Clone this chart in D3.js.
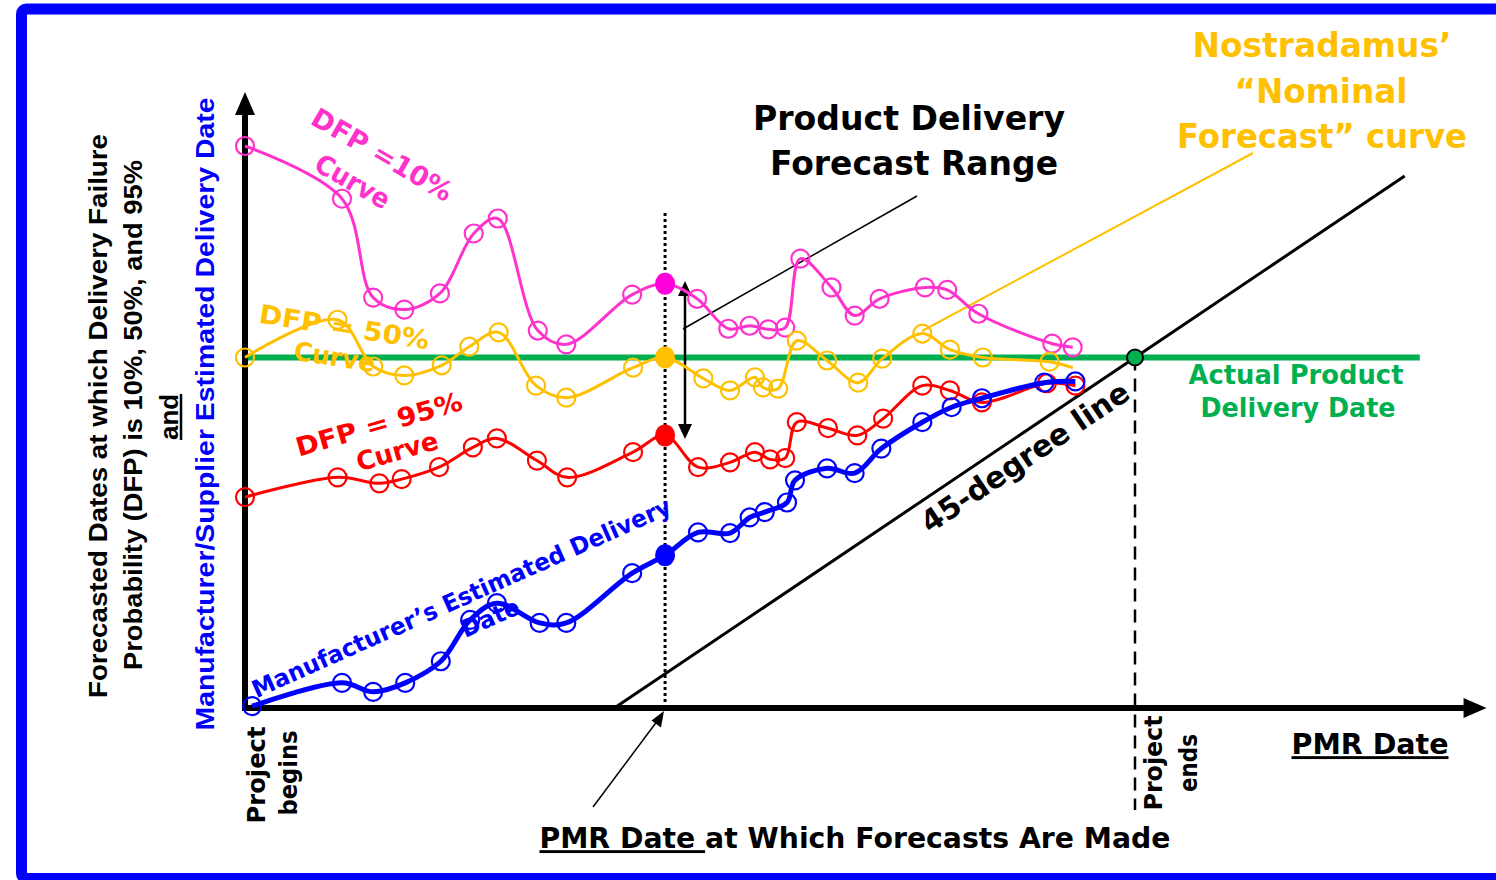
<!DOCTYPE html>
<html>
<head>
<meta charset="utf-8">
<script src="https://cdn.jsdelivr.net/npm/d3@7"></script>
<style>
  body { margin: 0; background: #fff; }
  svg { display: block; }
</style>
</head>
<body>
<svg width="1496" height="880"></svg>
<script>
// PMR date (0 = project begins, 100 = project ends) vs forecasted delivery date, same units
const pinkX = [0, 10.9, 14.4, 17.9, 21.9, 25.7, 28.4, 32.9, 36.1, 43.5, 47.2, 50.8, 54.3, 56.7, 58.8, 60.7, 62.4, 65.9, 68.5, 71.3, 76.4, 78.9, 82.4, 90.7, 93.0];
const pinkY = [135.3, 126.5, 110.0, 108.0, 110.7, 120.7, 123.2, 104.5, 102.2, 110.5, 112.3, 109.8, 104.8, 105.3, 104.7, 105.0, 116.5, 111.7, 107.0, 109.8, 111.7, 111.3, 107.3, 102.3, 101.7];

const yellowX = [0, 10.4, 14.4, 17.9, 22.1, 25.2, 28.5, 32.7, 36.1, 43.6, 47.2, 51.5, 54.5, 57.3, 58.2, 59.9, 62.0, 65.4, 68.9, 71.6, 76.1, 79.2, 82.9, 90.4, 93.0];
const yellowY = [100, 106.3, 98.5, 97.0, 98.7, 101.8, 104.2, 95.3, 93.3, 98.3, 100, 96.5, 94.5, 96.7, 95.0, 94.8, 102.8, 99.5, 95.8, 99.8, 104.0, 101.3, 100.0, 99.3, 98.3];

const redX = [0, 10.4, 15.1, 17.6, 21.8, 25.6, 28.3, 32.8, 36.2, 43.6, 47.2, 50.9, 54.5, 57.3, 59.0, 60.7, 62.0, 65.5, 68.8, 71.7, 76.1, 79.2, 82.8, 90.1, 93.3];
const redY = [76.7, 80.0, 79.0, 79.7, 81.7, 85.0, 86.5, 82.8, 80.0, 84.2, 87.0, 81.7, 82.5, 84.2, 83.0, 83.2, 89.2, 88.2, 87.0, 89.8, 95.3, 94.5, 92.5, 95.7, 95.3];

const blueX = [0.8, 10.9, 14.4, 18.0, 22.0, 25.3, 28.3, 33.1, 36.1, 43.5, 47.2, 50.9, 54.5, 56.7, 58.4, 60.9, 61.8, 65.4, 68.5, 71.5, 76.1, 79.4, 82.8, 89.8, 93.3];
const blueY = [41.8, 45.7, 44.2, 45.7, 49.3, 56.2, 59.0, 55.7, 55.7, 64.0, 67.0, 70.8, 70.7, 73.3, 74.2, 75.8, 79.5, 81.5, 80.7, 84.8, 89.2, 91.7, 93.2, 95.8, 96.0];

const forecastDate = 47.2;   // PMR date at which forecasts are made
const projectEnd = 100;
const actualDelivery = 100;

const svg = d3.select("svg");

const x = d3.scaleLinear().domain([0, 100]).range([245, 1135]);
const y = d3.scaleLinear().domain([41.5, 100]).range([708, 357.5]);

const yMin = 41.5, yTop = 144, xTip = 139.5;

// blue frame
svg.append('rect')
    .attr('x', 21.5).attr('y', 9)
    .attr('width', 1520).attr('height', 869.5)
    .attr('rx', 5)
    .attr('fill', 'none')
    .attr('stroke', '#0000ff')
    .attr('stroke-width', 11);

// ---------- text helper ----------
const label = (lines, o) => {
    const g = svg.append('g')
        .attr('transform', `translate(${o.x},${o.y}) rotate(${o.rot || 0})`);
    const lh = o.lh || o.size * 1.3;
    lines.forEach((t, i) => {
        const txt = g.append('text')
            .attr('x', o.dx ? o.dx[i] || 0 : 0)
            .attr('y', (i - (lines.length - 1) / 2) * lh)
            .attr('dy', '0.35em')
            .attr('text-anchor', 'middle')
            .attr('font-family', o.family || 'DejaVu Sans')
            .attr('font-weight', 'bold')
            .attr('font-size', o.size)
            .attr('fill', o.fill || '#000');
        if (o.len && o.len[i]) {
            txt.attr('textLength', o.len[i]).attr('lengthAdjust', 'spacingAndGlyphs');
        }
        if (Array.isArray(t)) {
            t.forEach(part => {
                txt.append('tspan')
                    .attr('text-decoration', part.u ? 'underline' : null)
                    .text(part.t);
            });
        } else {
            txt.text(t);
        }
    });
    return g;
};

// ---------- reference lines ----------
// actual product delivery date
svg.append('line')
    .attr('x1', x(0)).attr('x2', x(132))
    .attr('y1', y(actualDelivery)).attr('y2', y(actualDelivery))
    .attr('stroke', '#00b050').attr('stroke-width', 6);

// 45-degree line
svg.append('line')
    .attr('x1', x(yMin)).attr('y1', y(yMin))
    .attr('x2', x(130.3)).attr('y2', y(130.3))
    .attr('stroke', '#000').attr('stroke-width', 3);

// forecast date dotted line
svg.append('line')
    .attr('x1', x(forecastDate)).attr('x2', x(forecastDate))
    .attr('y1', 213).attr('y2', y(yMin))
    .attr('stroke', '#000').attr('stroke-width', 3)
    .attr('stroke-dasharray', '3,3');

// project end dashed line
svg.append('line')
    .attr('x1', x(projectEnd)).attr('x2', x(projectEnd))
    .attr('y1', y(actualDelivery)).attr('y2', 810)
    .attr('stroke', '#000').attr('stroke-width', 2.5)
    .attr('stroke-dasharray', '13,8');

// leader lines
svg.append('line')
    .attr('x1', 917).attr('y1', 196).attr('x2', 683).attr('y2', 329)
    .attr('stroke', '#000').attr('stroke-width', 1.5);
svg.append('line')
    .attr('x1', 1253).attr('y1', 153).attr('x2', 922).attr('y2', 331)
    .attr('stroke', '#ffc000').attr('stroke-width', 2);

// ---------- axes ----------
svg.append('line')
    .attr('x1', x(0)).attr('x2', x(0))
    .attr('y1', y(yMin) + 3).attr('y2', y(yTop) + 18)
    .attr('stroke', '#000').attr('stroke-width', 6);
svg.append('path')
    .attr('d', `M${x(0)},${y(yTop) - 2} L${x(0) - 10},${y(yTop) + 21} L${x(0) + 10},${y(yTop) + 21} Z`)
    .attr('fill', '#000');

svg.append('line')
    .attr('x1', x(0) - 3).attr('x2', x(xTip) - 18)
    .attr('y1', y(yMin)).attr('y2', y(yMin))
    .attr('stroke', '#000').attr('stroke-width', 6);
svg.append('path')
    .attr('d', `M${x(xTip)},${y(yMin)} L${x(xTip) - 23},${y(yMin) - 10} L${x(xTip) - 23},${y(yMin) + 10} Z`)
    .attr('fill', '#000');

// double arrow: forecast range
const ax = 685, aTop = 281, aBot = 439;
svg.append('line')
    .attr('x1', ax).attr('x2', ax).attr('y1', aTop + 10).attr('y2', aBot - 10)
    .attr('stroke', '#000').attr('stroke-width', 2.5);
svg.append('path')
    .attr('d', `M${ax},${aTop} L${ax - 7},${aTop + 15} L${ax + 7},${aTop + 15} Z M${ax},${aBot} L${ax - 7},${aBot - 15} L${ax + 7},${aBot - 15} Z`)
    .attr('fill', '#000');

// arrow to forecast date on the axis
svg.append('line')
    .attr('x1', 593).attr('y1', 807).attr('x2', 658).attr('y2', 720)
    .attr('stroke', '#000').attr('stroke-width', 1.5);
svg.append('path')
    .attr('d', 'M664,711 L651.5,720.5 L661,727.5 Z')
    .attr('fill', '#000');

// ---------- labels ----------
label(['Product Delivery', 'Forecast Range'], { x: 911, y: 141, size: 33, lh: 45, dx: [-2, 3], len: [312, 288] });
label(['Nostradamus\u2019', '\u201cNominal', 'Forecast\u201d curve'],
    { x: 1322, y: 91, size: 34, lh: 45.5, fill: '#ffc000', dx: [0, -1, 0], len: [259, 173, 290] });
label(['Actual Product', 'Delivery Date'], { x: 1296, y: 391, size: 27, lh: 33, fill: '#00b050', dx: [0, 2], len: [215, 195] });
label(['45-degree line'], { x: 1025, y: 457, size: 30, rot: -34, len: [244] });
label([[{ t: 'PMR Date', u: true }]], { x: 1370, y: 744, size: 29, len: [157] });
label([[{ t: 'PMR Date ', u: true }, { t: 'at Which Forecasts Are Made' }]], { x: 855, y: 838, size: 29, len: [631] });
label(['Project', 'begins'], { x: 273, y: 773, size: 24, lh: 32, rot: -90, dx: [-2, 0], len: [97, 85] });
label(['Project', 'ends'], { x: 1171, y: 763, size: 24, lh: 35, rot: -90, len: [95, 58] });

// y-axis titles
const yLabelFont = 'Liberation Sans';
label(['Forecasted Dates at which Delivery Failure'], { x: 98, y: 416, size: 25, rot: -90, family: yLabelFont, len: [564] });
label(['Probability (DFP) is 10%, 50%, and 95%'], { x: 133, y: 415, size: 25, rot: -90, family: yLabelFont, len: [510] });
label([[{ t: 'and', u: true }]], { x: 169, y: 417, size: 25, rot: -90, family: yLabelFont, len: [46] });
label(['Manufacturer/Supplier  Estimated Delivery Date'], { x: 205, y: 414, size: 25, rot: -90, family: yLabelFont, fill: '#0000ff', len: [633] });

// series labels
label(['DFP =10%', 'Curve'], { x: 364, y: 166, size: 27, lh: 38, rot: 30, fill: '#ff33cc', dx: [10, -2], len: [158, 82] });
label(['DFP = 50%', 'Curve'], { x: 340, y: 342, size: 26, lh: 31, rot: 9, fill: '#ffc000', dx: [2, -3], len: [172, 82] });
label(['DFP = 95%', 'Curve'], { x: 387, y: 438, size: 26, lh: 31, rot: -16, fill: '#ff0000', dx: [-4, 6], len: [172, 84] });
label(['Manufacturer\u2019s Estimated Delivery', 'Date'], { x: 473, y: 609, size: 24, lh: 30, rot: -24, fill: '#0000ff', dx: [-6, 12], len: [456, 62] });

// ---------- series ----------
const toPoints = (xs, ys) => xs.map((v, i) => ({ x: v, y: ys[i] }));
const series = [
    { pts: toPoints(pinkX, pinkY), color: '#ff33cc', dot: '#ff00dd', width: 3, lastMarker: true },
    { pts: toPoints(yellowX, yellowY), color: '#ffc000', dot: '#ffc000', width: 3, lastMarker: false },
    { pts: toPoints(redX, redY), color: '#ff0000', dot: '#ff0000', width: 3, lastMarker: true },
    { pts: toPoints(blueX, blueY), color: '#0000ff', dot: '#0000ff', width: 5, lastMarker: true }
];

const line = d3.line()
    .x(d => x(d.x))
    .y(d => y(d.y))
    .curve(d3.curveCatmullRom.alpha(0.5));

series.forEach(s => {
    const g = svg.append('g');
    g.append('path')
        .attr('d', line(s.pts))
        .attr('fill', 'none')
        .attr('stroke', s.color)
        .attr('stroke-width', s.width)
        .attr('stroke-linejoin', 'round');

    const open = s.pts.filter((d, i) => d.x !== forecastDate && (s.lastMarker || i < s.pts.length - 1));
    g.selectAll('circle.open').data(open)
        .enter().append('circle')
        .attr('class', 'open')
        .attr('cx', d => x(d.x))
        .attr('cy', d => y(d.y))
        .attr('r', 9)
        .attr('fill', 'none')
        .attr('stroke', s.color)
        .attr('stroke-width', 2.2);

    g.selectAll('ellipse').data(s.pts.filter(d => d.x === forecastDate))
        .enter().append('ellipse')
        .attr('cx', d => x(d.x))
        .attr('cy', d => y(d.y))
        .attr('rx', 10).attr('ry', 11)
        .attr('fill', s.dot);
});

// project-end / actual delivery point
svg.append('circle')
    .attr('cx', x(projectEnd)).attr('cy', y(actualDelivery))
    .attr('r', 8)
    .attr('fill', '#00b050')
    .attr('stroke', '#000').attr('stroke-width', 2);
</script>
</body>
</html>
